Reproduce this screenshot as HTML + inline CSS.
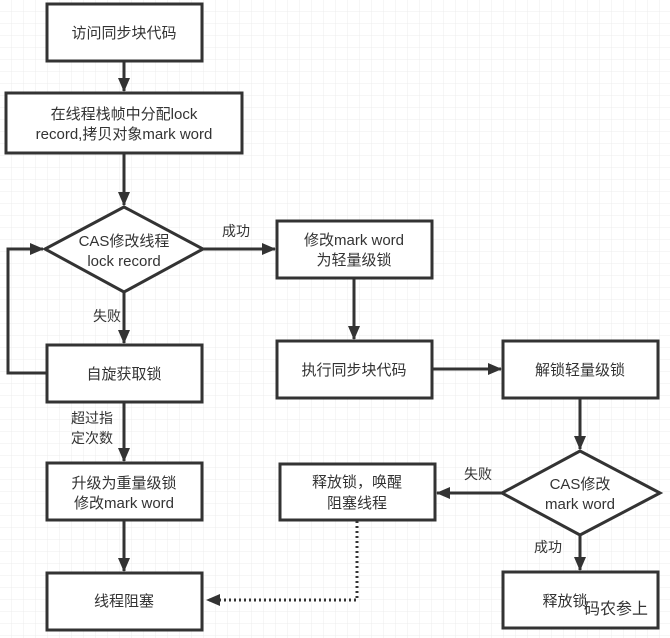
<!DOCTYPE html>
<html><head><meta charset="utf-8"><style>
body{margin:0;background:#fff}
svg{display:block}
text{font-family:"Liberation Sans","Noto Sans CJK SC",sans-serif;font-size:15px;fill:#333;text-anchor:middle}
.l{font-size:14px}
</style></head><body>
<svg width="670" height="638" viewBox="0 0 670 638">
<defs>
<pattern id="g" width="12" height="12" patternUnits="userSpaceOnUse"><path d="M12 0V12H0" fill="none" stroke="#ececec" stroke-width="1"/></pattern>
<marker id="a" markerWidth="14" markerHeight="14" refX="13" refY="6" orient="auto" markerUnits="userSpaceOnUse"><path d="M0 0L14 6L0 12z" fill="#333"/></marker>
</defs>
<rect width="670" height="638" fill="url(#g)"/>
<g fill="#fff" stroke="#333" stroke-width="3">
<rect x="47" y="4" width="155" height="57"/>
<rect x="6" y="93" width="236" height="60"/>
<path d="M124 207L203 249L124 292L45 249z"/>
<rect x="277" y="221" width="155" height="57"/>
<rect x="47" y="345" width="155" height="57"/>
<rect x="277" y="341" width="155" height="57"/>
<rect x="503" y="341" width="155" height="57"/>
<rect x="47" y="463" width="155" height="57"/>
<rect x="280" y="464" width="155" height="56"/>
<path d="M580 451L660 493L580 535L502 493z"/>
<rect x="47" y="573" width="155" height="57"/>
<rect x="503" y="572" width="155" height="56"/>
</g>
<g stroke="#333" stroke-width="3" fill="none" marker-end="url(#a)">
<path d="M124 61V91"/>
<path d="M124 153V205"/>
<path d="M203 249H275"/>
<path d="M124 292V343"/>
<path d="M47 373H8V249H43"/>
<path d="M354 278V339"/>
<path d="M432 369H501"/>
<path d="M580 398V449"/>
<path d="M502 493H437"/>
<path d="M580 535V570"/>
<path d="M124 402V461"/>
<path d="M124 520V571"/>
</g>
<path d="M357 521V600H207" stroke="#333" stroke-width="3" stroke-dasharray="2 3" fill="none" marker-end="url(#a)"/>
<text x="124" y="38">访问同步块代码</text>
<text x="124" y="119">在线程栈帧中分配lock</text>
<text x="124" y="139">record,拷贝对象mark word</text>
<text x="124" y="246">CAS修改线程</text>
<text x="124" y="266">lock record</text>
<text class="l" x="236" y="236">成功</text>
<text x="354" y="245">修改mark word</text>
<text x="354" y="265">为轻量级锁</text>
<text class="l" x="107" y="321">失败</text>
<text x="124" y="379">自旋获取锁</text>
<text x="354" y="375">执行同步块代码</text>
<text x="580" y="375">解锁轻量级锁</text>
<text class="l" x="92" y="423">超过指</text>
<text class="l" x="92" y="443">定次数</text>
<text x="124" y="488">升级为重量级锁</text>
<text x="124" y="508">修改mark word</text>
<text x="357" y="487">释放锁，唤醒</text>
<text x="357" y="508">阻塞线程</text>
<text x="580" y="489">CAS修改</text>
<text x="580" y="509">mark word</text>
<text class="l" x="478" y="479">失败</text>
<text class="l" x="548" y="552">成功</text>
<text x="124" y="606">线程阻塞</text>
<text x="565" y="606">释放锁</text>
<text x="616" y="614" style="font-size:16px">码农参上</text>
</svg>
</body></html>
